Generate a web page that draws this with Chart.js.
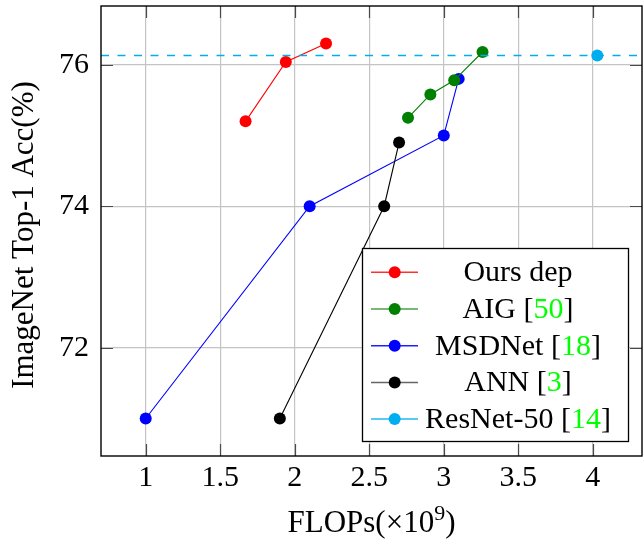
<!DOCTYPE html>
<html>
<head>
<meta charset="utf-8">
<script src="https://cdn.jsdelivr.net/npm/chart.js@4.4.7/dist/chart.umd.min.js"></script>
<style>
  html, body { margin: 0; padding: 0; background: #fff; overflow: hidden; }
  #wrap { position: absolute; left: 0; top: 0; width: 648px; height: 542px; }
</style>
</head>
<body>
<div id="wrap"><canvas id="chart" width="648" height="542"></canvas></div>
<script>
// FLOPs (x1e9) against top-1 accuracy
const oursFlops = [1.67, 1.94, 2.21];
const oursAcc = [75.2, 76.04, 76.3];
const aigFlops = [2.76, 2.91, 3.07, 3.26];
const aigAcc = [75.25, 75.58, 75.78, 76.18];
const msdFlops = [1.0, 2.1, 3.0, 3.1];
const msdAcc = [71.0, 74.0, 75.0, 75.8];
const annFlops = [1.9, 2.6, 2.7];
const annAcc = [71.0, 74.0, 74.9];
const resnetFlops = [4.03];
const resnetAcc = [76.13];

const seriesNames = ['Ours dep', 'AIG', 'MSDNet', 'ANN', 'ResNet-50'];
const seriesCites = [null, '50', '18', '3', '14'];
const seriesColors = ['#ff0000', '#008000', '#0000ff', '#000000', '#00aeef'];
const legendLineColors = ['#ff3030', '#4aa04a', '#2020ff', '#666666', '#20b8f0'];

const xTicks = [1, 1.5, 2, 2.5, 3, 3.5, 4];
const yTicks = [72, 74, 76];
const xMin = 0.7, xMax = 4.33;
const yMin = 70.47, yMax = 76.83;

const FONT = "'Liberation Serif', 'Times New Roman', serif";

function pts(xs, ys) {
  return xs.map((x, i) => ({ x: x, y: ys[i] }));
}

function series(i, xs, ys) {
  return {
    label: seriesNames[i],
    data: pts(xs, ys),
    borderColor: seriesColors[i],
    backgroundColor: seriesColors[i],
    borderWidth: 1.1,
    pointRadius: 6,
    pointHoverRadius: 6,
    pointBorderWidth: 0,
    showLine: true,
    tension: 0
  };
}

const datasets = [
  {
    label: 'ResNet-50 baseline',
    data: pts([xMin, xMax], [resnetAcc[0], resnetAcc[0]]),
    borderColor: seriesColors[4],
    borderWidth: 1.6,
    borderDash: [8, 8.5],
    pointRadius: 0,
    showLine: true
  },
  series(4, resnetFlops, resnetAcc),
  series(3, annFlops, annAcc),
  series(1, aigFlops, aigAcc),
  series(2, msdFlops, msdAcc),
  series(0, oursFlops, oursAcc)
];

// inward tick marks on all four sides, the frame, axis titles and legend
const decorations = {
  id: 'decorations',
  afterDraw(chart) {
    const ctx = chart.ctx;
    const a = chart.chartArea;
    const xs = chart.scales.x, ys = chart.scales.y;
    const tl = 12;
    ctx.save();
    ctx.strokeStyle = '#4a4a4a';
    ctx.lineWidth = 1.2;
    ctx.beginPath();
    xTicks.forEach(v => {
      const px = Math.round(xs.getPixelForValue(v)) + 0.5;
      ctx.moveTo(px, a.bottom); ctx.lineTo(px, a.bottom - tl);
      ctx.moveTo(px, a.top); ctx.lineTo(px, a.top + tl);
    });
    yTicks.forEach(v => {
      const py = Math.round(ys.getPixelForValue(v)) + 0.5;
      ctx.moveTo(a.left, py); ctx.lineTo(a.left + tl, py);
      ctx.moveTo(a.right, py); ctx.lineTo(a.right - tl, py);
    });
    ctx.stroke();

    ctx.strokeStyle = '#000';
    ctx.lineWidth = 1.4;
    ctx.strokeRect(a.left, a.top, a.right - a.left, a.bottom - a.top);

    // axis titles
    ctx.fillStyle = '#000';
    ctx.font = '31px ' + FONT;
    ctx.textBaseline = 'alphabetic';
    const t1 = 'FLOPs(\u00d710', sup = '9', t2 = ')';
    const w1 = ctx.measureText(t1).width, w3 = ctx.measureText(t2).width;
    ctx.font = '22px ' + FONT;
    const w2 = ctx.measureText(sup).width;
    let x0 = 371.5 - (w1 + w2 + w3) / 2;
    ctx.font = '31px ' + FONT;
    ctx.textAlign = 'left';
    ctx.fillText(t1, x0, 532);
    ctx.font = '22px ' + FONT;
    ctx.fillText(sup, x0 + w1, 520);
    ctx.font = '31px ' + FONT;
    ctx.fillText(t2, x0 + w1 + w2, 532);

    ctx.save();
    ctx.translate(33, 235);
    ctx.rotate(-Math.PI / 2);
    ctx.textAlign = 'center';
    ctx.fillText('ImageNet Top-1 Acc(%)', 0, 0);
    ctx.restore();

    // legend
    const box = { l: 362.5, t: 248.5, r: 628.5, b: 441.5 };
    ctx.fillStyle = '#fff';
    ctx.fillRect(box.l, box.t, box.r - box.l, box.b - box.t);
    ctx.strokeStyle = '#000';
    ctx.lineWidth = 1.3;
    ctx.strokeRect(box.l, box.t, box.r - box.l, box.b - box.t);
    ctx.font = '30px ' + FONT;
    ctx.textBaseline = 'middle';
    ctx.textAlign = 'left';
    seriesNames.forEach((name, i) => {
      const cy = 272.3 + i * 36.7;
      ctx.strokeStyle = legendLineColors[i];
      ctx.lineWidth = 1.5;
      ctx.beginPath();
      ctx.moveTo(371, cy); ctx.lineTo(418, cy);
      ctx.stroke();
      ctx.fillStyle = seriesColors[i];
      ctx.beginPath();
      ctx.arc(394.7, cy, 6, 0, Math.PI * 2);
      ctx.fill();

      const parts = seriesCites[i] === null
        ? [[name, '#000']]
        : [[name + ' [', '#000'], [seriesCites[i], '#00ff00'], [']', '#000']];
      const total = parts.reduce((s, p) => s + ctx.measureText(p[0]).width, 0);
      let tx = 518 - total / 2;
      parts.forEach(p => {
        ctx.fillStyle = p[1];
        ctx.fillText(p[0], tx, cy + 1);
        tx += ctx.measureText(p[0]).width;
      });
    });
    ctx.restore();
  }
};

new Chart(document.getElementById('chart'), {
  type: 'scatter',
  data: { datasets: datasets },
  options: {
    responsive: false,
    devicePixelRatio: 1,
    animation: false,
    layout: { padding: { left: 0, top: 5, right: 3, bottom: 0 } },
    plugins: { legend: { display: false }, tooltip: { enabled: false } },
    scales: {
      x: {
        type: 'linear',
        min: xMin,
        max: xMax,
        afterBuildTicks: s => { s.ticks = xTicks.map(v => ({ value: v })); },
        afterFit: s => { s.height = 86; s.paddingLeft = 0; s.paddingRight = 0; },
        grid: { color: '#c4c4c4', lineWidth: 1.2, drawTicks: false },
        border: { display: false },
        ticks: {
          padding: 4,
          color: '#000',
          font: { family: FONT, size: 30 },
          maxRotation: 0,
          autoSkip: false,
          callback: v => String(v)
        }
      },
      y: {
        type: 'linear',
        min: yMin,
        max: yMax,
        afterBuildTicks: s => { s.ticks = yTicks.map(v => ({ value: v })); },
        afterFit: s => { s.width = 101; s.paddingTop = 0; s.paddingBottom = 0; },
        grid: { color: '#c4c4c4', lineWidth: 1.2, drawTicks: false },
        border: { display: false },
        ticks: {
          padding: 12,
          color: '#000',
          font: { family: FONT, size: 30 },
          autoSkip: false,
          callback: v => String(v)
        }
      }
    }
  },
  plugins: [decorations]
});
</script>
</body>
</html>
